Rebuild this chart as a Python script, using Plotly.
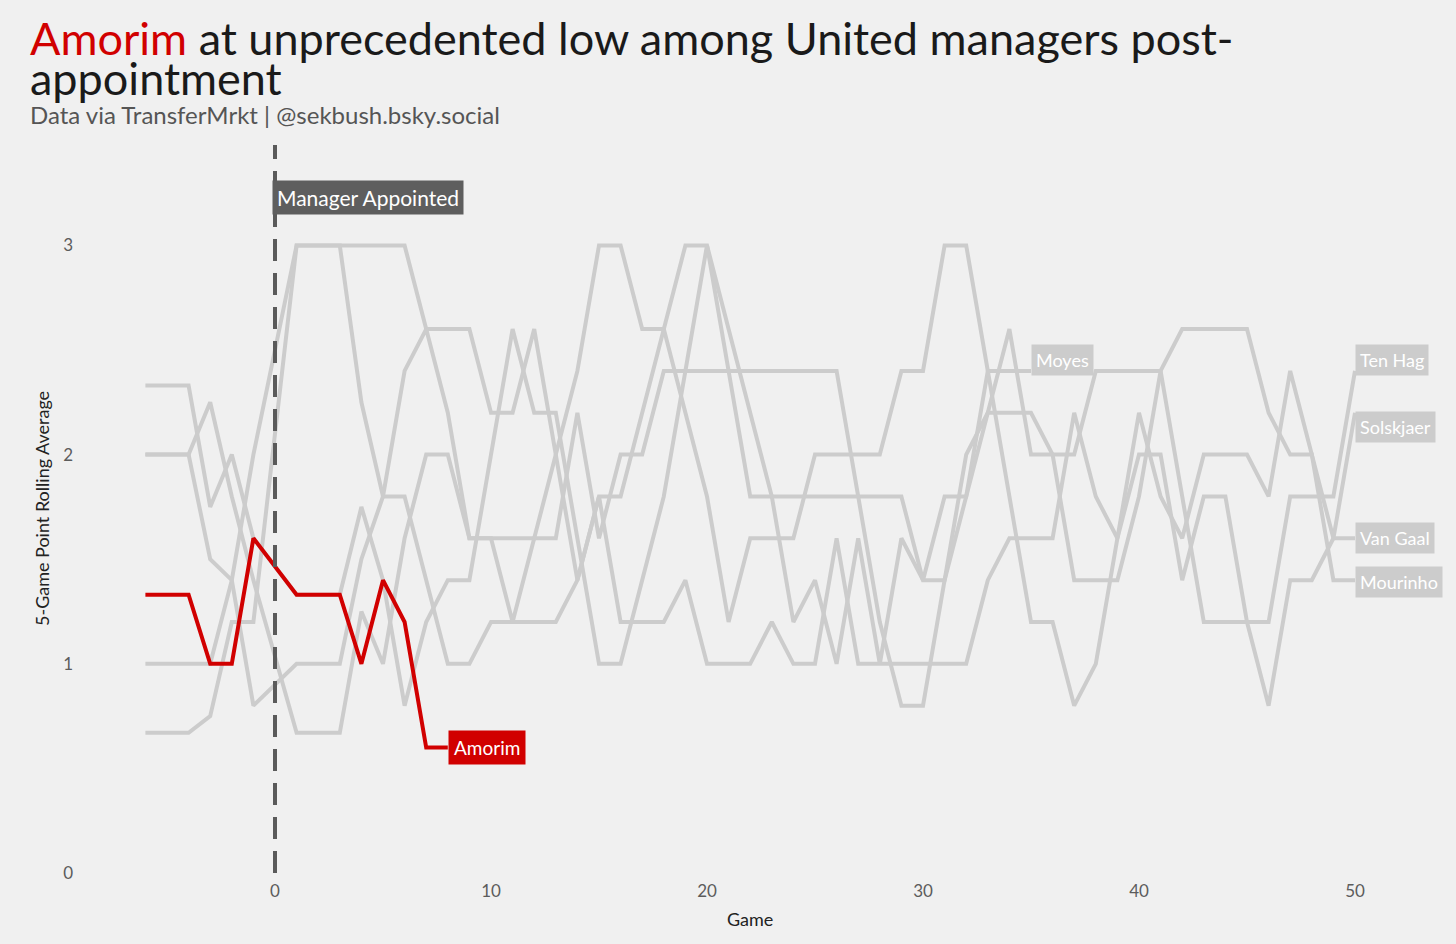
import plotly.graph_objects as go

# ---------------- data ----------------
pre_games = [-6, -5, -4, -3, -2, -1]

moyes_pre = [2.33, 2.33, 2.33, 1.75, 2.0, 1.6]
moyes_post = [1.33, 1.33, 1.33, 1.75, 1.4, 0.8, 1.2, 1.4, 1.4, 2.0,
              2.6, 2.2, 2.2, 1.6, 1.0, 1.0, 1.4, 1.8, 2.4, 2.4,
              2.4, 1.8, 1.8, 1.2, 1.4, 1.0, 1.6, 1.0, 1.6, 1.4,
              1.8, 1.8, 2.4, 2.4, 2.4]

vangaal_pre = [2.0, 2.0, 2.0, 2.25, 1.8, 1.4]
vangaal_post = [0.67, 0.67, 0.67, 1.25, 1.0, 1.6, 2.0, 2.0, 1.6, 1.6,
                1.6, 1.6, 2.0, 2.4, 3.0, 3.0, 2.6, 2.6, 2.2, 1.8,
                1.2, 1.6, 1.6, 1.6, 2.0, 2.0, 2.0, 2.0, 2.4, 2.4,
                3.0, 3.0, 2.4, 1.8, 1.2, 1.2, 0.8, 1.0, 1.6, 2.2,
                1.8, 1.6, 2.0, 2.0, 2.0, 1.8, 2.4, 2.0, 1.6, 1.6]

mourinho_pre = [1.0, 1.0, 1.0, 1.0, 1.4, 2.0]
mourinho_post = [3.0, 3.0, 3.0, 2.25, 1.8, 1.8, 1.4, 1.0, 1.0, 1.2,
                 1.2, 1.2, 1.2, 1.4, 1.8, 1.8, 2.2, 2.6, 3.0, 3.0,
                 2.6, 2.2, 1.8, 1.8, 1.8, 1.8, 1.8, 1.8, 1.8, 1.4,
                 1.4, 1.8, 2.2, 2.2, 2.2, 2.0, 1.4, 1.4, 1.4, 1.8,
                 2.4, 2.6, 2.6, 2.6, 2.6, 2.2, 2.0, 2.0, 1.4, 1.4]

solskjaer_pre = [0.67, 0.67, 0.67, 0.75, 1.2, 1.2]
solskjaer_post = [3.0, 3.0, 3.0, 3.0, 3.0, 3.0, 2.6, 2.6, 2.6, 2.2,
                  2.2, 2.6, 2.0, 1.4, 1.8, 1.2, 1.2, 1.2, 1.4, 1.0,
                  1.0, 1.0, 1.2, 1.0, 1.0, 1.6, 1.0, 1.0, 1.0, 1.0,
                  1.0, 1.0, 1.4, 1.6, 1.6, 1.6, 2.2, 1.8, 1.6, 2.0,
                  2.0, 1.4, 1.8, 1.8, 1.2, 0.8, 1.4, 1.4, 1.6, 2.2]

tenhag_pre = [2.0, 2.0, 2.0, 1.5, 1.4, 0.8]
tenhag_post = [1.0, 1.0, 1.0, 1.5, 1.8, 2.4, 2.6, 2.2, 1.6, 1.6,
               1.2, 1.6, 1.6, 2.2, 1.6, 2.0, 2.0, 2.4, 2.4, 3.0,
               2.4, 2.4, 2.4, 2.4, 2.4, 2.4, 1.8, 1.2, 0.8, 0.8,
               1.4, 2.0, 2.2, 2.6, 2.0, 2.0, 2.0, 2.4, 2.4, 2.4,
               2.4, 1.8, 1.2, 1.2, 1.2, 1.2, 1.8, 1.8, 1.8, 2.4]

amorim_pre = [1.33, 1.33, 1.33, 1.0, 1.0, 1.6]
amorim_post = [1.33, 1.33, 1.33, 1.0, 1.4, 1.2, 0.6, 0.6]

gray_managers = ["Moyes", "Van Gaal", "Mourinho", "Solskjaer", "Ten Hag"]
gray_pre = [moyes_pre, vangaal_pre, mourinho_pre, solskjaer_pre, tenhag_pre]
gray_post = [moyes_post, vangaal_post, mourinho_post, solskjaer_post, tenhag_post]
# label vertical positions (slightly repelled as in the original)
gray_label_y = [2.45, 1.60, 1.39, 2.13, 2.45]
amorim_label_y = 0.6

x_ticks = [0, 10, 20, 30, 40, 50]
y_ticks = [0, 1, 2, 3]

# ---------------- style ----------------
BG = "#F0F0F0"
GRAY = "#CCCCCC"
RED = "#D10000"
FONT = "Lato, 'DejaVu Sans', sans-serif"

W, H = 1456, 944
ML, MR, MT, MB = 100, 56, 145, 71
PW, PH = W - ML - MR, H - MT - MB


def px_to_paper_x(px):
    return (px - ML) / PW


def px_to_paper_y(py):
    return (H - MB - py) / PH


fig = go.Figure()


def series_xy(pre, post):
    xs = list(pre_games) + list(range(1, len(post) + 1))
    ys = list(pre) + list(post)
    return xs, ys


annotations = []
for name, pre, post, ly in zip(gray_managers, gray_pre, gray_post, gray_label_y):
    xs, ys = series_xy(pre, post)
    fig.add_trace(go.Scatter(x=xs, y=ys, mode="lines",
                             line=dict(color=GRAY, width=4),
                             name=name, hoverinfo="skip"))
    annotations.append(dict(x=xs[-1], y=ly, xref="x", yref="y", text=name,
                            showarrow=False, xanchor="left", yanchor="middle",
                            bgcolor=GRAY, borderpad=4,
                            font=dict(family=FONT, size=18, color="white")))

xs, ys = series_xy(amorim_pre, amorim_post)
fig.add_trace(go.Scatter(x=xs, y=ys, mode="lines",
                         line=dict(color=RED, width=4),
                         name="Amorim", hoverinfo="skip"))
annotations.append(dict(x=xs[-1], y=amorim_label_y, xref="x", yref="y", text="Amorim",
                        showarrow=False, xanchor="left", yanchor="middle",
                        bgcolor=RED, borderpad=5,
                        font=dict(family=FONT, size=19, color="white")))

# Manager appointed label
annotations.append(dict(x=-0.15, y=3.23, xref="x", yref="y", text="Manager Appointed",
                        showarrow=False, xanchor="left", yanchor="middle",
                        bgcolor="#5E5E5E", borderpad=4,
                        font=dict(family=FONT, size=21, color="white")))

# Title (two tightly spaced lines in one annotation)
title_html = (f"<span style='font-size:45px;color:{RED}'>Amorim</span>"
              "<span style='font-size:45px'> at unprecedented low among United managers post-</span>"
              "<br><span style='font-size:45px'>appointment</span>")
annotations.append(dict(x=px_to_paper_x(28), y=px_to_paper_y(9), xref="paper", yref="paper",
                        text=title_html, align="left",
                        showarrow=False, xanchor="left", yanchor="top",
                        font=dict(family=FONT, size=31, color="#1A1A1A")))
annotations.append(dict(x=px_to_paper_x(28), y=px_to_paper_y(115), xref="paper", yref="paper",
                        text="Data via TransferMrkt | @sekbush.bsky.social",
                        showarrow=False, xanchor="left", yanchor="middle",
                        font=dict(family=FONT, size=24, color="#555555")))
# Axis titles
annotations.append(dict(x=px_to_paper_x(42), y=0.5, xref="paper", yref="paper",
                        text="5-Game Point Rolling Average", textangle=-90,
                        showarrow=False, xanchor="center", yanchor="middle",
                        font=dict(family=FONT, size=18, color="#222222")))
annotations.append(dict(x=px_to_paper_x(750), y=px_to_paper_y(919), xref="paper", yref="paper",
                        text="Game",
                        showarrow=False, xanchor="center", yanchor="middle",
                        font=dict(family=FONT, size=18, color="#222222")))

x0 = (ML - 275) / 21.6
x1 = (W - MR - 275) / 21.6

fig.update_layout(
    width=W, height=H,
    paper_bgcolor=BG, plot_bgcolor=BG,
    margin=dict(l=ML, r=MR, t=MT, b=MB),
    showlegend=False,
    annotations=annotations,
    shapes=[dict(type="line", xref="x", yref="paper", x0=0, x1=0, y0=0, y1=1,
                 line=dict(color="#5A5A5A", width=4, dash="22px,12px"), layer="above")],
    xaxis=dict(range=[x0, x1], tickvals=x_ticks, showgrid=False, zeroline=False,
               showline=False, ticks="", ticklabelstandoff=6,
               tickfont=dict(family=FONT, size=17, color="#5C5C5C")),
    yaxis=dict(range=[0, 3.48], tickvals=y_ticks, showgrid=False, zeroline=False,
               showline=False, ticks="", ticklabelstandoff=26,
               tickfont=dict(family=FONT, size=17, color="#5C5C5C")),
)

fig.write_html("out.html",
               config={"displayModeBar": False},
               post_script="document.body.style.margin='0px';"
                           "document.body.style.background='#F0F0F0';")
